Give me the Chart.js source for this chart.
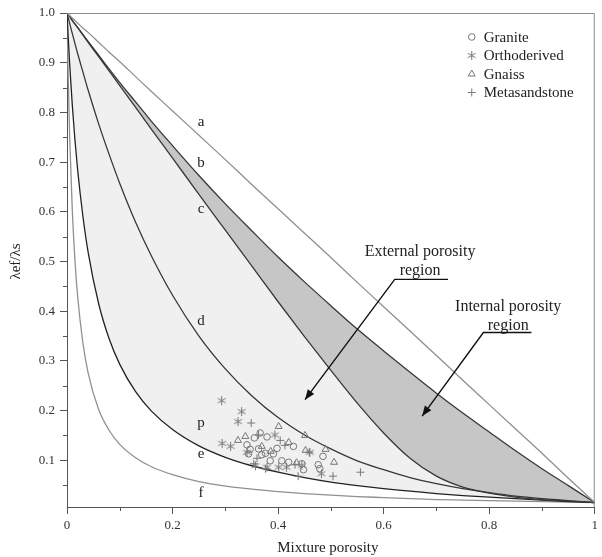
<!DOCTYPE html>
<html>
<head>
<meta charset="utf-8">
<script src="https://cdn.jsdelivr.net/npm/chart.js@4.4.0/dist/chart.umd.min.js"></script>
<style>
  html, body { margin: 0; padding: 0; background: #fff; }
</style>
</head>
<body>
<canvas id="chart" width="602" height="557"></canvas>
<script>
"use strict";

// porosity grid shared by all model curves
var porosity = [0, 0.002, 0.005, 0.01, 0.015, 0.02, 0.03, 0.04, 0.06, 0.08, 0.1, 0.13, 0.16, 0.2, 0.25,
  0.3, 0.35, 0.4, 0.45, 0.5, 0.55, 0.6, 0.65, 0.7, 0.75, 0.8, 0.85, 0.9, 0.95, 1];

// a .. f : lambda_ef / lambda_s
var curveA = [1, 0.998, 0.995, 0.990, 0.985, 0.980, 0.970, 0.961, 0.941, 0.921, 0.902, 0.872, 0.842, 0.803, 0.754,
  0.705, 0.655, 0.606, 0.557, 0.508, 0.458, 0.409, 0.360, 0.311, 0.261, 0.212, 0.163, 0.114, 0.064, 0.015];
var curveB = [1, 0.997, 0.993, 0.985, 0.978, 0.971, 0.957, 0.943, 0.915, 0.887, 0.860, 0.821, 0.782, 0.733, 0.673,
  0.616, 0.562, 0.509, 0.459, 0.411, 0.364, 0.320, 0.277, 0.235, 0.195, 0.157, 0.119, 0.083, 0.049, 0.015];
var curveC = [1, 0.997, 0.993, 0.985, 0.978, 0.971, 0.956, 0.941, 0.912, 0.883, 0.854, 0.810, 0.766, 0.708, 0.635,
  0.563, 0.491, 0.419, 0.349, 0.281, 0.215, 0.155, 0.104, 0.068, 0.046, 0.034, 0.026, 0.021, 0.018, 0.015];
var curveD = [1, 0.992, 0.979, 0.959, 0.939, 0.919, 0.882, 0.845, 0.777, 0.715, 0.657, 0.579, 0.511, 0.432, 0.350,
  0.284, 0.230, 0.186, 0.151, 0.123, 0.099, 0.081, 0.065, 0.053, 0.043, 0.035, 0.028, 0.023, 0.019, 0.015];
var curveE = [1, 0.957, 0.898, 0.815, 0.745, 0.686, 0.592, 0.519, 0.415, 0.344, 0.293, 0.238, 0.199, 0.162, 0.129,
  0.106, 0.089, 0.076, 0.065, 0.056, 0.049, 0.043, 0.038, 0.033, 0.029, 0.026, 0.023, 0.020, 0.017, 0.015];
var curveF = [1, 0.884, 0.753, 0.604, 0.504, 0.432, 0.337, 0.276, 0.202, 0.160, 0.132, 0.105, 0.087, 0.071, 0.057,
  0.048, 0.042, 0.037, 0.033, 0.030, 0.027, 0.025, 0.023, 0.021, 0.020, 0.019, 0.018, 0.017, 0.016, 0.015];

// measured samples
var graniteX = [0.366, 0.379, 0.341, 0.347, 0.363, 0.376, 0.391, 0.429, 0.420, 0.407, 0.385, 0.448, 0.476, 0.485, 0.479, 0.369, 0.445, 0.344, 0.355, 0.398];
var graniteY = [0.155, 0.147, 0.131, 0.122, 0.123, 0.114, 0.113, 0.128, 0.096, 0.099, 0.099, 0.081, 0.091, 0.108, 0.083, 0.111, 0.093, 0.113, 0.145, 0.124];
var orthoX = [0.293, 0.331, 0.324, 0.294, 0.310, 0.394, 0.401, 0.416, 0.379, 0.482, 0.460, 0.341, 0.445, 0.357];
var orthoY = [0.220, 0.198, 0.178, 0.134, 0.128, 0.151, 0.086, 0.086, 0.086, 0.073, 0.116, 0.116, 0.090, 0.089];
var gnaissX = [0.401, 0.451, 0.490, 0.506, 0.338, 0.324, 0.452, 0.369, 0.420, 0.386, 0.435];
var gnaissY = [0.168, 0.150, 0.122, 0.096, 0.148, 0.140, 0.120, 0.128, 0.136, 0.118, 0.095];
var metaX = [0.349, 0.363, 0.404, 0.459, 0.438, 0.504, 0.556, 0.354, 0.376, 0.432, 0.360, 0.413];
var metaY = [0.175, 0.151, 0.140, 0.116, 0.068, 0.068, 0.076, 0.093, 0.083, 0.091, 0.104, 0.130];

var sampleNames = ['Granite', 'Orthoderived', 'Gnaiss', 'Metasandstone'];
var xTicks = [0, 0.2, 0.4, 0.6, 0.8, 1];

var serif = '"Liberation Serif", "DejaVu Serif", serif';
var markColor = '#777';

// six-spoke asterisk like the one in the figure
var asterisk = document.createElement('canvas');
asterisk.width = 11; asterisk.height = 11;
(function() {
  var c = asterisk.getContext('2d');
  c.strokeStyle = markColor;
  c.lineWidth = 1;
  c.beginPath();
  for (var k = 0; k < 3; k++) {
    var a = Math.PI / 2 + k * Math.PI / 3;
    c.moveTo(5.5 + 4.5 * Math.cos(a), 5.5 + 4.5 * Math.sin(a));
    c.lineTo(5.5 - 4.5 * Math.cos(a), 5.5 - 4.5 * Math.sin(a));
  }
  c.stroke();
})();

function pts(xs, ys) {
  return xs.map(function(x, i) { return { x: x, y: ys[i] }; });
}

function curve(label, ys, color, fill, bg) {
  return {
    label: label,
    data: pts(porosity, ys),
    borderColor: color,
    borderWidth: 1.3,
    pointRadius: 0,
    cubicInterpolationMode: 'monotone',
    fill: fill,
    backgroundColor: bg || 'transparent',
    order: 10
  };
}

function samples(label, xs, ys, style, r) {
  return {
    label: label,
    data: pts(xs, ys),
    showLine: false,
    pointStyle: style,
    pointRadius: r,
    pointBorderWidth: 1,
    pointBorderColor: markColor,
    pointBackgroundColor: 'transparent',
    order: 0
  };
}

var overlay = {
  id: 'overlay',
  afterDraw: function(chart) {
    var ctx = chart.ctx, xs = chart.scales.x, ys = chart.scales.y, area = chart.chartArea;
    function px(v) { return xs.getPixelForValue(v); }
    function py(v) { return ys.getPixelForValue(v); }
    ctx.save();

    // frame on top/right
    ctx.strokeStyle = '#8a8a8a';
    ctx.lineWidth = 1;
    ctx.beginPath();
    ctx.moveTo(area.left, area.top + 0.5);
    ctx.lineTo(area.right - 0.5, area.top + 0.5);
    ctx.lineTo(area.right - 0.5, area.bottom);
    ctx.stroke();

    // minor ticks
    ctx.strokeStyle = '#555';
    ctx.beginPath();
    for (var i = 1; i < 10; i += 2) {
      var x = Math.round(px(i / 10)) + 0.5;
      ctx.moveTo(x, area.bottom); ctx.lineTo(x, area.bottom + 4);
    }
    for (var j = 1; j < 20; j += 2) {
      var y = Math.round(py(j / 20)) + 0.5;
      ctx.moveTo(area.left, y); ctx.lineTo(area.left - 4, y);
    }
    ctx.stroke();

    // curve letters
    ctx.fillStyle = '#222';
    ctx.font = '15px ' + serif;
    ctx.textAlign = 'center';
    ctx.textBaseline = 'middle';
    [['a', 0.780], ['b', 0.698], ['c', 0.605], ['d', 0.381], ['p', 0.175], ['e', 0.113], ['f', 0.034]]
      .forEach(function(t) { ctx.fillText(t[0], px(0.254), py(t[1])); });

    // region annotations
    ctx.font = '16px ' + serif;
    function note(l1, l2, cx, y1, y2, uy, ux1, ux2, tx, ty) {
      ctx.fillStyle = '#222';
      ctx.fillText(l1, px(cx), py(y1));
      ctx.fillText(l2, px(cx), py(y2));
      var sx = px(ux1), sy = py(uy), ex = px(tx), ey = py(ty);
      ctx.strokeStyle = '#111';
      ctx.lineWidth = 1.4;
      ctx.beginPath();
      ctx.moveTo(px(ux2), sy); ctx.lineTo(sx, sy); ctx.lineTo(ex, ey);
      ctx.stroke();
      var ang = Math.atan2(ey - sy, ex - sx), L = 10, W = 4;
      ctx.fillStyle = '#111';
      ctx.beginPath();
      ctx.moveTo(ex, ey);
      ctx.lineTo(ex - L * Math.cos(ang) + W * Math.sin(ang), ey - L * Math.sin(ang) - W * Math.cos(ang));
      ctx.lineTo(ex - L * Math.cos(ang) - W * Math.sin(ang), ey - L * Math.sin(ang) + W * Math.cos(ang));
      ctx.closePath();
      ctx.fill();
    }
    note('External porosity', 'region', 0.669, 0.520, 0.482, 0.464, 0.621, 0.722, 0.451, 0.222);
    note('Internal porosity', 'region', 0.836, 0.409, 0.371, 0.357, 0.789, 0.880, 0.673, 0.189);

    // legend
    var styles = ['circle', asterisk, 'triangle', 'cross'];
    var lx = area.right - 123, ly = area.top + 24;
    ctx.textAlign = 'left';
    ctx.font = '15px ' + serif;
    sampleNames.forEach(function(name, k) {
      var yy = ly + k * 18.5;
      ctx.strokeStyle = markColor;
      ctx.fillStyle = 'transparent';
      ctx.lineWidth = 1;
      Chart.helpers.drawPoint(ctx, { pointStyle: styles[k], radius: k === 0 ? 3.3 : 4, rotation: 0, borderWidth: 1 }, lx, yy);
      ctx.fillStyle = '#222';
      ctx.fillText(name, lx + 12, yy + 1);
    });

    // axis titles
    ctx.textAlign = 'center';
    ctx.font = '15px ' + serif;
    ctx.fillText('Mixture porosity', px(0.5) - 3, 548);
    ctx.translate(16, py(0.5));
    ctx.rotate(-Math.PI / 2);
    ctx.fillText('\u03bbef/\u03bbs', 0, 0);
    ctx.restore();
  }
};

var ctx = document.getElementById('chart').getContext('2d');
var myChart = new Chart(ctx, {
  type: 'line',
  data: {
    datasets: [
      curve('a', curveA, '#909090', false),
      curve('b', curveB, '#383838', false),
      curve('c', curveC, '#383838', 1, '#c6c6c6'),
      curve('d', curveD, '#383838', false),
      curve('e', curveE, '#222', 2, '#f0f0f0'),
      curve('f', curveF, '#909090', false),
      samples(sampleNames[0], graniteX, graniteY, 'circle', 3.3),
      samples(sampleNames[1], orthoX, orthoY, asterisk, 4),
      samples(sampleNames[2], gnaissX, gnaissY, 'triangle', 4),
      samples(sampleNames[3], metaX, metaY, 'cross', 4)
    ]
  },
  options: {
    responsive: false,
    animation: false,
    layout: { padding: { left: 0, right: 3, top: 13, bottom: 0 } },
    plugins: {
      legend: { display: false },
      tooltip: { enabled: false },
      filler: { drawTime: 'beforeDatasetsDraw' }
    },
    scales: {
      x: {
        type: 'linear',
        min: 0,
        max: 1,
        afterFit: function(s) { s.height = 50; },
        afterBuildTicks: function(s) { s.ticks = xTicks.map(function(v) { return { value: v }; }); },
        ticks: {
          color: '#333',
          padding: 4,
          maxRotation: 0,
          font: { family: serif, size: 13 },
          callback: function(v) { return String(v); }
        },
        grid: { drawOnChartArea: false, tickLength: 7, color: '#555' },
        border: { color: '#555', width: 1 }
      },
      y: {
        type: 'linear',
        min: 0.006,
        max: 1,
        afterFit: function(s) { s.width = 67; },
        ticks: {
          stepSize: 0.1,
          includeBounds: false,
          color: '#333',
          padding: 5,
          font: { family: serif, size: 13 },
          callback: function(v) { return v < 0.05 ? '' : v.toFixed(1); }
        },
        grid: { drawOnChartArea: false, tickLength: 7, color: '#555' },
        border: { color: '#555', width: 1 }
      }
    }
  },
  plugins: [overlay]
});
</script>
</body>
</html>
